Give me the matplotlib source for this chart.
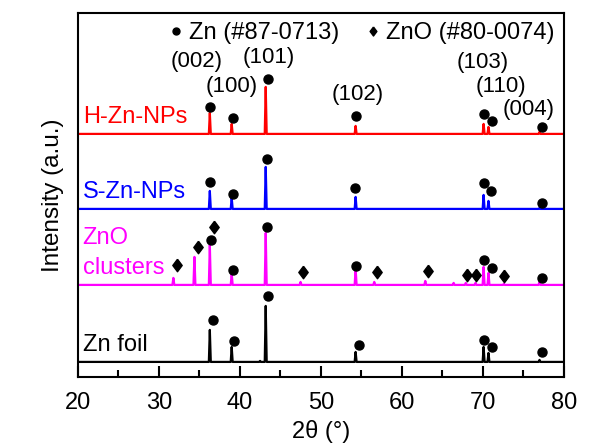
import numpy as np
import matplotlib.pyplot as plt
from matplotlib.lines import Line2D

plt.rcParams["font.family"] = ["Liberation Sans", "DejaVu Sans"]

# peak positions (2theta) and heights above each baseline
h_pos = [36.3, 39.0, 43.2, 54.3, 70.1, 70.7, 77.0]
h_hgt = [21, 10, 47, 8, 10, 7, 2]
s_pos = [36.3, 39.0, 43.2, 54.3, 70.1, 70.7, 77.0]
s_hgt = [18, 11, 42, 12, 14, 8, 1]
o_pos = [31.8, 34.4, 36.3, 39.0, 43.2, 47.5, 54.3, 56.6, 62.9, 66.4, 67.9,
         69.1, 70.1, 70.7, 72.6, 77.0]
o_hgt = [7, 28, 40, 11, 52, 3, 16, 3, 4, 2, 2, 2, 18, 12, 1, 3]
f_pos = [36.3, 39.0, 42.5, 43.2, 54.3, 70.1, 70.7, 77.0]
f_hgt = [32, 15, 1, 56, 10, 15, 9, 2]

# baselines (vertical offsets) of the stacked patterns
base_h, base_s, base_o, base_f = 243, 168, 92, 15

# Zn (circle) and ZnO (diamond) marker positions
h_zn_x = [36.3, 39.1, 43.5, 54.4, 70.2, 71.1, 77.3]
h_zn_y = [270, 259, 298, 261, 263, 256, 250]
s_zn_x = [36.3, 39.1, 43.3, 54.2, 70.1, 71.0, 77.3]
s_zn_y = [195, 183, 218, 189, 194, 186, 174]
o_zn_x = [36.4, 39.1, 43.3, 54.4, 70.2, 71.1, 77.3]
o_zn_y = [137, 107, 150, 111, 117, 109, 99]
o_zno_x = [32.2, 34.8, 36.8, 47.8, 56.9, 63.2, 68.1, 69.1, 72.6]
o_zno_y = [112, 130, 150, 105, 105, 106, 102, 102, 101]
f_zn_x = [36.7, 39.3, 43.5, 54.7, 70.2, 71.1, 77.3]
f_zn_y = [57, 36, 81, 32, 37, 30, 25]

hkl = ["(002)", "(100)", "(101)", "(102)", "(103)", "(110)", "(004)"]
hkl_x = [34.7, 39.0, 43.6, 54.6, 70.0, 72.2, 75.7]
hkl_y = [315, 290, 319, 282, 314, 290, 267]

# diamond a bit taller than wide, like the original symbols
diamond = [(0, 1), (0.75, 0), (0, -1), (-0.75, 0), (0, 1)]


def pattern(pos, hgt, base):
    xs, ys = [20.0], [base]
    for p, h in zip(pos, hgt):
        xs += [p - 0.12, p, p + 0.12]
        ys += [base, base + h, base]
    xs.append(80.0)
    ys.append(base)
    return np.array(xs), np.array(ys)


fig = plt.figure(figsize=(6.03, 4.45), dpi=100)
ax = fig.add_axes([0.129, 0.153, 0.806, 0.818])

for pos, hgt, base, col in [(h_pos, h_hgt, base_h, "red"),
                            (s_pos, s_hgt, base_s, "blue"),
                            (o_pos, o_hgt, base_o, "#ff00ff"),
                            (f_pos, f_hgt, base_f, "black")]:
    x, y = pattern(pos, hgt, base)
    ax.plot(x, y, color=col, lw=1.6)

for mx, my in [(h_zn_x, h_zn_y), (s_zn_x, s_zn_y), (o_zn_x, o_zn_y), (f_zn_x, f_zn_y)]:
    ax.plot(mx, my, "o", color="black", ms=6.5, ls="none")
ax.plot(o_zno_x, o_zno_y, marker=diamond, color="black", ms=9, ls="none")

for t, x, y in zip(hkl, hkl_x, hkl_y):
    ax.text(x, y, t, ha="center", va="center", fontsize=16)

ax.text(20.6, 260, "H-Zn-NPs", color="red", fontsize=17, va="center")
ax.text(20.6, 185, "S-Zn-NPs", color="blue", fontsize=17, va="center")
ax.text(20.6, 139, "ZnO", color="#ff00ff", fontsize=17, va="center")
ax.text(20.6, 109, "clusters", color="#ff00ff", fontsize=17, va="center")
ax.text(20.6, 32, "Zn foil", color="black", fontsize=17, va="center")

handles = [Line2D([], [], marker="o", ls="none", color="black", ms=5),
           Line2D([], [], marker=diamond, ls="none", color="black", ms=6.5)]
ax.legend(handles, ["Zn (#87-0713)", "ZnO (#80-0074)"], ncol=2, frameon=False,
          loc="upper right", bbox_to_anchor=(1.015, 1.02), fontsize=17,
          handlelength=0.5, handletextpad=0.3, columnspacing=1.2,
          borderaxespad=0.3)

ax.set_xlim(20, 80)
ax.set_ylim(0, 364)
ax.set_xticks(np.arange(20, 81, 10))
ax.set_xticks(np.arange(25, 80, 10), minor=True)
ax.set_yticks([])
ax.tick_params(axis="x", which="major", direction="in", length=8, width=1.5, labelsize=17, pad=11)
ax.tick_params(axis="x", which="minor", direction="in", length=5, width=1.5)
for s in ax.spines.values():
    s.set_linewidth(1.5)
ax.set_xlabel("2θ (°)", fontsize=17, labelpad=4)
ax.set_ylabel("Intensity (a.u.)", fontsize=17.5, labelpad=10)

fig.savefig("out.png", dpi=100)
